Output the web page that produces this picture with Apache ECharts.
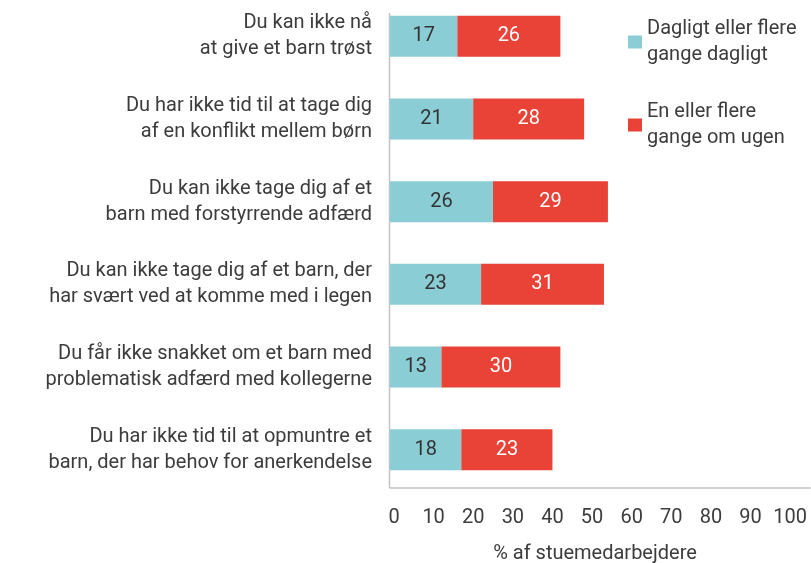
<!DOCTYPE html>
<html><head><meta charset="utf-8">
<script src="https://cdn.jsdelivr.net/npm/echarts@6/dist/echarts.min.js"></script>
<style>html,body{margin:0;padding:0;background:#fff}#c{width:811px;height:563px}</style>
</head><body><div id="c"></div>
<script>
const categories = [
  'Du kan ikke nå\nat give et barn trøst',
  'Du har ikke tid til at tage dig\naf en konflikt mellem børn',
  'Du kan ikke tage dig af et\nbarn med forstyrrende adfærd',
  'Du kan ikke tage dig af et barn, der\nhar svært ved at komme med i legen',
  'Du får ikke snakket om et barn med\nproblematisk adfærd med kollegerne',
  'Du har ikke tid til at opmuntre et\nbarn, der har behov for anerkendelse'
];
const seriesNames = ['Dagligt eller flere\ngange dagligt', 'En eller flere\ngange om ugen'];
const daily = [17, 21, 26, 23, 13, 18];
const weekly = [26, 28, 29, 31, 30, 23];
const xTicks = [0, 10, 20, 30, 40, 50, 60, 70, 80, 90, 100];
const xTitle = '% af stuemedarbejdere';

const FONT = 'Roboto';
const TXT = '#3c3c3c';
const FS = 20;
const chart = echarts.init(document.getElementById('c'), null, {renderer: 'canvas'});
chart.setOption({
  animation: false,
  textStyle: {fontFamily: FONT},
  grid: {left: 390, right: 1, top: -5, height: 496, containLabel: false, outerBoundsMode: 'none'},
  legend: {
    orient: 'vertical', left: 628, top: 3, padding: 0, itemWidth: 14, itemHeight: 13, itemGap: 5,
    icon: 'rect',
    textStyle: {fontFamily: FONT, fontSize: FS, color: TXT, lineHeight: 26, padding: [26, 0, 0, 0]},
    data: seriesNames
  },
  xAxis: {
    type: 'value', min: 0, max: 106, interval: 10, offset: -3,
    axisLine: {show: true, lineStyle: {color: '#c4c4c4', width: 1.5}},
    axisTick: {show: false}, splitLine: {show: false},
    axisLabel: {
      fontSize: FS, color: TXT, margin: 20, padding: [0, 0, 0, 8],
      showMaxLabel: false,
      formatter: v => (xTicks.indexOf(v) >= 0 ? String(v) : '')
    },
    name: xTitle, nameLocation: 'middle', nameGap: 56,
    nameTextStyle: {fontSize: FS, color: TXT, padding: [0, 10, 0, 0]}
  },
  yAxis: {
    type: 'category', inverse: true, data: categories,
    axisLine: {show: false}, axisTick: {show: false},
    axisLabel: {fontSize: FS, color: TXT, lineHeight: 26, margin: 18, align: 'right'}
  },
  graphic: [{
    type: 'line', shape: {x1: 389.5, y1: 13, x2: 389.5, y2: 488},
    style: {stroke: '#c4c4c4', lineWidth: 1.5}, silent: true
  }],
  series: [
    {name: seriesNames[0], type: 'bar', stack: 's', data: daily, barWidth: 41,
     itemStyle: {color: '#8acdd4'},
     label: {show: true, position: 'inside', color: '#333', fontSize: FS, fontFamily: FONT}},
    {name: seriesNames[1], type: 'bar', stack: 's', data: weekly, barWidth: 41,
     itemStyle: {color: '#e94236'},
     label: {show: true, position: 'inside', color: '#fff', fontSize: FS, fontFamily: FONT}}
  ]
});
</script></body></html>
